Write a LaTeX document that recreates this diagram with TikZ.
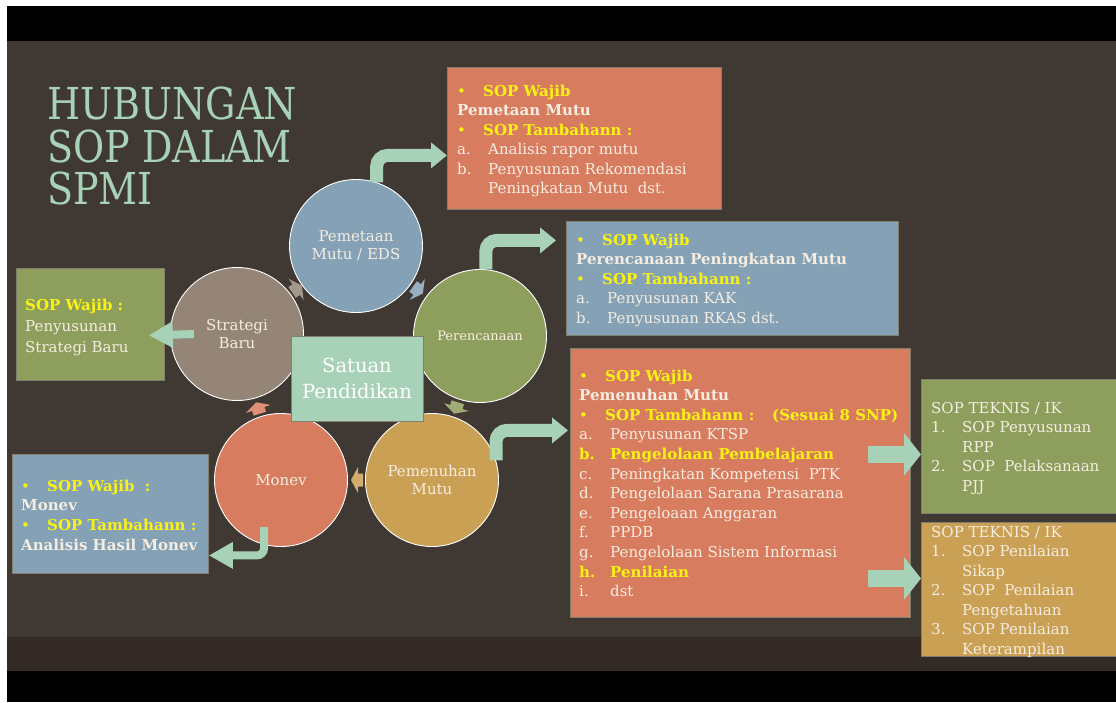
\documentclass[tikz,border=0pt]{standalone}
\usepackage{fontspec}
\setmainfont{DejaVu Serif}
\newfontfamily\titlefont[FakeStretch=0.865]{DejaVu Serif}
\usetikzlibrary{arrows.meta}

\definecolor{slidebg}{RGB}{64,56,50}
\definecolor{slideband}{RGB}{51,41,37}
\definecolor{mint}{RGB}{168,210,183}
\definecolor{steel}{RGB}{132,161,182}
\definecolor{coral}{RGB}{216,124,95}
\definecolor{olive}{RGB}{142,158,92}
\definecolor{ochre}{RGB}{201,160,84}
\definecolor{taupe}{RGB}{148,133,119}
\definecolor{hilite}{RGB}{250,242,20}
\definecolor{cream}{RGB}{245,237,225}
\definecolor{edge}{RGB}{128,128,110}

% list helpers
\newcommand\bulhead[1]{\color{hilite}\makebox[26pt][l]{\textbullet}\textbf{#1}}
\newcommand\itm[2]{\makebox[31pt][l]{#1}#2}
% small cycle arrow: x, y, direction angle, colour
\newcommand\cyc[4]{\fill[#4, shift={(#1,#2)}, rotate=#3]
  (6,0) -- (-1,13) -- (-1,6.5) -- (-6,6.5) -- (-6,-6.5) -- (-1,-6.5) -- (-1,-13) -- cycle;}

\tikzset{
  box/.style={draw=edge, line width=0.8pt, inner sep=0pt, anchor=north west},
  boxtxt/.style={anchor=base west, inner sep=0pt, text=cream,
                 font=\fontsize{15}{19.5}\selectfont},
  circ/.style={circle, draw=white, line width=0.9pt, inner sep=0pt,
               minimum size=133pt, text=cream, align=center,
               font=\fontsize{15}{18}\selectfont},
  bentwide/.style={draw=mint, line width=13pt, rounded corners=11pt,
                   -{Triangle[length=16pt,width=25pt]}},
  bentthin/.style={draw=mint, line width=8pt, rounded corners=7pt,
                   -{Triangle[length=24pt,width=25pt]}},
  blockarrow/.style={draw=mint, line width=17pt,
                     -{Triangle[length=17pt,width=42pt]}},
}

\begin{document}
\begin{tikzpicture}[x=1pt,y=-1pt]
\path[use as bounding box] (0,0) rectangle (1116,702);

% slide frame
\fill[white] (0,0) rectangle (1116,702);
\fill[black] (7,6) rectangle (1116,702);
\fill[slidebg] (7,41) rectangle (1116,637);
\fill[slideband] (7,637) rectangle (1116,671);

% title
\node[anchor=north west, inner sep=0pt, align=left, text=mint,
      font=\titlefont\fontsize{44}{42.5}\selectfont] (title) at (47,87)
  {HUBUNGAN\\SOP DALAM\\SPMI};

% cycle arrows between the circles
\cyc{297}{289}{34.6}{taupe!85!white}
\cyc{418}{290}{-35.7}{steel!85!white}
\cyc{456}{408}{-107.7}{olive!85!white}
\cyc{357}{480}{180}{ochre!85!white}
\cyc{258}{408}{107.9}{coral!85!white}

% cycle circles
\node[circ, fill=steel] (pem) at (356,246) {Pemetaan\\Mutu / EDS};
\node[circ, fill=olive, font=\fontsize{13}{16}\selectfont] (per) at (480,336) {Perencanaan};
\node[circ, fill=ochre] (pmn) at (432,480) {Pemenuhan\\Mutu};
\node[circ, fill=coral] (mon) at (281,480) {Monev};
\node[circ, fill=taupe] (str) at (237,334) {Strategi\\Baru};

% centre
\node[draw=edge, line width=0.6pt, fill=mint, minimum width=132pt, minimum height=85pt,
      inner sep=0pt, align=center, text=white, font=\fontsize{19.5}{26}\selectfont]
  (unit) at (357,378.5) {Satuan\\Pendidikan};

% SOP boxes
\node[box, fill=coral, minimum width=274pt, minimum height=142pt] (mapbox) at (447,67) {};
\node[boxtxt] (maptxt) at (457,96) {\begin{tabular}[t]{@{}l@{}}
  \bulhead{SOP Wajib}\\
  \textbf{Pemetaan Mutu}\\
  \bulhead{SOP Tambahann :}\\
  \itm{a.}{Analisis rapor mutu}\\
  \itm{b.}{Penyusunan Rekomendasi}\\
  \itm{}{Peningkatan Mutu\ \ dst.}
\end{tabular}};

\node[box, fill=steel, minimum width=332pt, minimum height=114pt] (planbox) at (566,221) {};
\node[boxtxt] (plantxt) at (576,245) {\begin{tabular}[t]{@{}l@{}}
  \bulhead{SOP Wajib}\\
  \textbf{Perencanaan Peningkatan Mutu}\\
  \bulhead{SOP Tambahann :}\\
  \itm{a.}{Penyusunan KAK}\\
  \itm{b.}{Penyusunan RKAS dst.}
\end{tabular}};

\node[box, fill=coral, minimum width=340pt, minimum height=269pt] (fulbox) at (570,348) {};
\node[boxtxt, font=\fontsize{15}{19.6}\selectfont] (fultxt) at (579,381) {\begin{tabular}[t]{@{}l@{}}
  \bulhead{SOP Wajib}\\
  \textbf{Pemenuhan Mutu}\\
  \bulhead{\makebox[167pt][l]{SOP Tambahann :}(Sesuai 8 SNP)}\\
  \itm{a.}{Penyusunan KTSP}\\
  \color{hilite}\bfseries\itm{b.}{Pengelolaan Pembelajaran}\\
  \itm{c.}{Peningkatan Kompetensi\ \ PTK}\\
  \itm{d.}{Pengelolaan Sarana Prasarana}\\
  \itm{e.}{Pengeloaan Anggaran}\\
  \itm{f.}{PPDB}\\
  \itm{g.}{Pengelolaan Sistem Informasi}\\
  \color{hilite}\bfseries\itm{h.}{Penilaian}\\
  \itm{i.}{dst}
\end{tabular}};

\node[box, fill=olive, minimum width=200pt, minimum height=134pt] (techA) at (921,379) {};
\node[boxtxt] (techAtxt) at (931,413) {\begin{tabular}[t]{@{}l@{}}
  SOP TEKNIS / IK\\
  \itm{1.}{SOP Penyusunan}\\
  \itm{}{RPP}\\
  \itm{2.}{SOP\ \ Pelaksanaan}\\
  \itm{}{PJJ}
\end{tabular}};

\node[box, fill=ochre, minimum width=200pt, minimum height=134pt] (techB) at (921,522) {};
\node[boxtxt] (techBtxt) at (931,537) {\begin{tabular}[t]{@{}l@{}}
  SOP TEKNIS / IK\\
  \itm{1.}{SOP Penilaian}\\
  \itm{}{Sikap}\\
  \itm{2.}{SOP\ \ Penilaian}\\
  \itm{}{Pengetahuan}\\
  \itm{3.}{SOP Penilaian}\\
  \itm{}{Keterampilan}
\end{tabular}};

\node[box, fill=olive, minimum width=148pt, minimum height=112pt] (stratbox) at (16,268) {};
\node[boxtxt, font=\fontsize{15}{21}\selectfont] (strattxt) at (25,310) {\begin{tabular}[t]{@{}l@{}}
  \color{hilite}\textbf{SOP Wajib :}\\
  Penyusunan\\
  Strategi Baru
\end{tabular}};

\node[box, fill=steel, minimum width=196pt, minimum height=119pt] (monbox) at (12,454) {};
\node[boxtxt, font=\fontsize{15}{19.7}\selectfont] (montxt) at (21,491) {\begin{tabular}[t]{@{}l@{}}
  \bulhead{SOP Wajib\ \ :}\\
  \textbf{Monev}\\
  \bulhead{SOP Tambahann :}\\
  \textbf{Analisis Hasil Monev}
\end{tabular}};

% connectors from the circles to their SOP boxes
\draw[bentwide] (pem.72) |- ([yshift=-17pt]mapbox.west);
\draw[bentwide] (per.85.7) |- ([xshift=-10pt,yshift=38pt]planbox.west);
\draw[bentwide] (pmn.17) |- ([xshift=-2pt,yshift=52.5pt]fulbox.west);
\draw[bentthin] ([xshift=24pt]str.west) -- ([xshift=-16pt,yshift=-11pt]stratbox.east);
\draw[bentthin] ([xshift=-17pt,yshift=-47pt]mon.center) |- ([yshift=-41.5pt]monbox.east);
\draw[blockarrow] ([xshift=-43pt,yshift=28.5pt]fulbox.east) -- ([yshift=-8pt]techA.west);
\draw[blockarrow] ([xshift=-43pt,yshift=-95.5pt]fulbox.east) -- ([yshift=11pt]techB.west);
\end{tikzpicture}
\end{document}
